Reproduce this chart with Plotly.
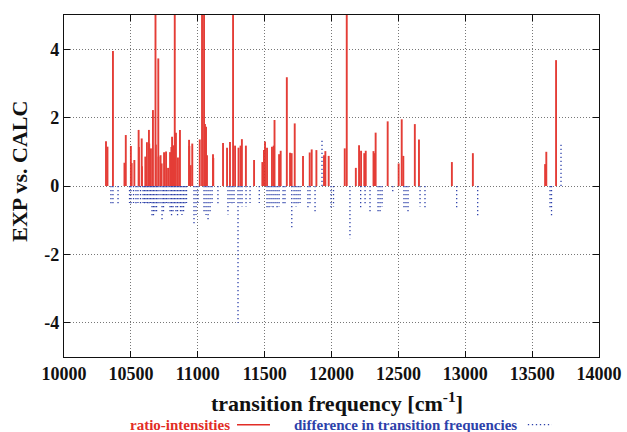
import plotly.graph_objects as go

# ratio-intensities (red impulses); values > 5 run off the top of the frame
ratio_x = [10314, 10325, 10366, 10452, 10462, 10500, 10506, 10526, 10558, 10560,
           10581, 10583, 10608, 10620, 10635, 10637, 10650, 10665, 10684, 10687,
           10705, 10707, 10722, 10730, 10748, 10763, 10778, 10793, 10803, 10808,
           10817, 10828, 10837, 10852, 10867, 10935, 10937, 10947, 10959, 11015,
           11032, 11047, 11054, 11062, 11069, 11114, 11116, 11189, 11219, 11241,
           11264, 11279, 11305, 11320, 11330, 11360, 11421, 11483, 11495, 11503,
           11518, 11555, 11568, 11574, 11608, 11620, 11666, 11690, 11702, 11725,
           11787, 11837, 11852, 11887, 11944, 11954, 11979, 12099, 12114, 12182,
           12206, 12221, 12245, 12256, 12314, 12322, 12330, 12420, 12502, 12525,
           12537, 12623, 12654, 12900, 13057, 13597, 13606, 13679]
ratio_y = [1.31, 1.15, 3.95, 0.68, 1.49, 1.17, 0.67, 0.76, 1.64, 1.14,
           1.39, 0.58, 0.86, 1.28, 1.64, 1.24, 1.10, 2.22, 6.0, 1.21,
           3.73, 0.86, 0.90, 0.66, 0.99, 1.01, 0.53, 0.99, 1.14, 1.44,
           1.19, 6.0, 1.56, 0.83, 1.64, 1.35, 1.17, 0.61, 1.24, 1.36,
           6.0, 6.0, 1.81, 1.73, 0.90, 0.93, 0.82, 1.26, 1.12, 1.29,
           6.0, 1.18, 1.12, 1.18, 1.37, 1.18, 0.76, 0.70, 1.05, 1.30,
           1.12, 1.15, 1.18, 1.93, 0.93, 1.03, 3.18, 0.97, 0.96, 1.83,
           0.88, 0.98, 1.07, 1.05, 0.90, 1.02, 0.88, 1.10, 6.0, 0.53,
           1.19, 1.03, 0.96, 1.03, 1.02, 0.96, 1.56, 1.89, 0.66, 1.95,
           0.88, 1.81, 1.36, 0.70, 0.96, 0.64, 1.00, 3.68]

# difference in transition frequencies (blue dotted impulses)
diff_x = [10351, 10366, 10404, 10490, 10501, 10520, 10538, 10553, 10572, 10591,
          10602, 10613, 10624, 10636, 10647, 10658, 10669, 10680, 10692, 10703,
          10718, 10733, 10744, 10755, 10766, 10778, 10793, 10804, 10815, 10826,
          10837, 10849, 10860, 10871, 10882, 10894, 10905, 10916, 10972, 10987,
          11002, 11047, 11062, 11077, 11092, 11107, 11151, 11226, 11241, 11256,
          11271, 11301, 11316, 11331, 11361, 11391, 11460, 11518, 11533, 11548,
          11563, 11578, 11593, 11608, 11638, 11652, 11703, 11720, 11735, 11750,
          11765, 11824, 11839, 11877, 11929, 11996, 12015, 12138, 12218, 12251,
          12288, 12348, 12363, 12378, 12458, 12542, 12557, 12572, 12662, 12699,
          12936, 13093, 13634, 13645, 13716]
diff_y = [-0.55, -0.55, -0.55, -0.50, -0.55, -0.50, -0.55, -0.50, -0.55, -0.50,
          -0.55, -0.50, -0.55, -0.55, -0.50, -0.88, -0.90, -0.75, -0.80, -0.55,
          -0.55, -1.04, -0.75, -0.55, -0.50, -0.55, -0.80, -0.88, -0.80, -0.55,
          -0.82, -0.90, -0.55, -0.80, -0.85, -0.75, -0.55, -0.50, -1.10, -0.85,
          -0.50, -0.80, -0.85, -1.04, -0.80, -0.50, -0.55, -0.83, -0.50, -0.55,
          -0.50, -4.00, -0.55, -0.60, -0.60, -0.50, -0.50, -0.65, -0.70, -0.60,
          -0.65, -0.55, -0.65, -0.60, -0.55, -0.55, -1.29, -0.55, -0.60, -0.55,
          -0.50, -0.65, -0.55, -0.75, 1.39, -0.68, -0.60, -1.53, -0.65, -0.55,
          -0.80, -0.75, -0.78, -0.60, -0.19, -0.65, -0.70, -0.75, -0.60, -0.62,
          -0.65, -0.88, -0.70, -0.90, 1.27]

x_ticks = [10000, 10500, 11000, 11500, 12000, 12500, 13000, 13500, 14000]
x_tick_text = ["10000", "10500", "11000", "11500", "12000", "12500", "13000", "13500", "14000"]
y_ticks = [-4, -2, 0, 2, 4]
y_tick_text = ["-4", "-2", "0", "2", "4"]


def impulses(xs, ys):
    X, Y = [], []
    for x, y in zip(xs, ys):
        X += [x, x, None]
        Y += [0, y, None]
    return X, Y


rx, ry = impulses(ratio_x, ratio_y)
bx, by = impulses(diff_x, diff_y)

RED = "rgb(226,45,38)"
BLUE = "rgb(45,65,170)"
SERIF = "Liberation Serif"

fig = go.Figure()
fig.add_trace(go.Scatter(x=bx, y=by, mode="lines", showlegend=False,
                         line=dict(color=BLUE, width=1.3, dash="1.3px,2.7px")))
fig.add_trace(go.Scatter(x=rx, y=ry, mode="lines", showlegend=False, opacity=0.92,
                         line=dict(color=RED, width=1.9)))

axis_common = dict(showline=True, linecolor="#111", linewidth=1.3, mirror="ticks",
                   ticks="inside", ticklen=6, tickcolor="#111", tickwidth=1.2,
                   showgrid=True, gridcolor="#777", gridwidth=1, griddash="1px,2px",
                   zeroline=False,
                   tickfont=dict(family=SERIF, size=18, color="#111", weight="bold"))

fig.update_xaxes(range=[10000, 14000], tickvals=x_ticks, ticktext=x_tick_text, **axis_common)
fig.update_yaxes(range=[-5, 5], tickvals=y_ticks, ticktext=y_tick_text, **axis_common)

LEG_Y = -0.198

fig.update_layout(
    width=627, height=432,
    margin=dict(l=64, r=28, t=15, b=75, autoexpand=False),
    paper_bgcolor="white", plot_bgcolor="white",
    showlegend=False,
    annotations=[
        dict(text="EXP vs. CALC", xref="paper", yref="paper", x=-0.082, y=0.542,
             textangle=-90, showarrow=False, xanchor="center", yanchor="middle",
             font=dict(family=SERIF, size=22, color="#111", weight="bold")),
        dict(text="transition frequency [cm<sup>-1</sup>]", xref="paper", yref="paper",
             x=0.511, y=-0.133, showarrow=False, xanchor="center", yanchor="middle",
             font=dict(family=SERIF, size=22, color="#111", weight="bold")),
        dict(text="ratio-intensities", xref="paper", yref="paper",
             x=0.314, y=LEG_Y, showarrow=False, xanchor="right", yanchor="middle",
             font=dict(family=SERIF, size=15, color=RED, weight="bold")),
        dict(text="difference in transition frequencies", xref="paper", yref="paper",
             x=0.426, y=LEG_Y, showarrow=False, xanchor="left", yanchor="middle",
             font=dict(family=SERIF, size=15, color=BLUE, weight="bold")),
    ],
    shapes=[
        dict(type="line", xref="paper", yref="paper", x0=0.3234, x1=0.385,
             y0=LEG_Y, y1=LEG_Y, line=dict(color=RED, width=1.5)),
        dict(type="line", xref="paper", yref="paper", x0=0.867, x1=0.912,
             y0=LEG_Y, y1=LEG_Y, line=dict(color=BLUE, width=1.3, dash="1.3px,2.7px")),
    ],
)

fig.write_html("out.html")
